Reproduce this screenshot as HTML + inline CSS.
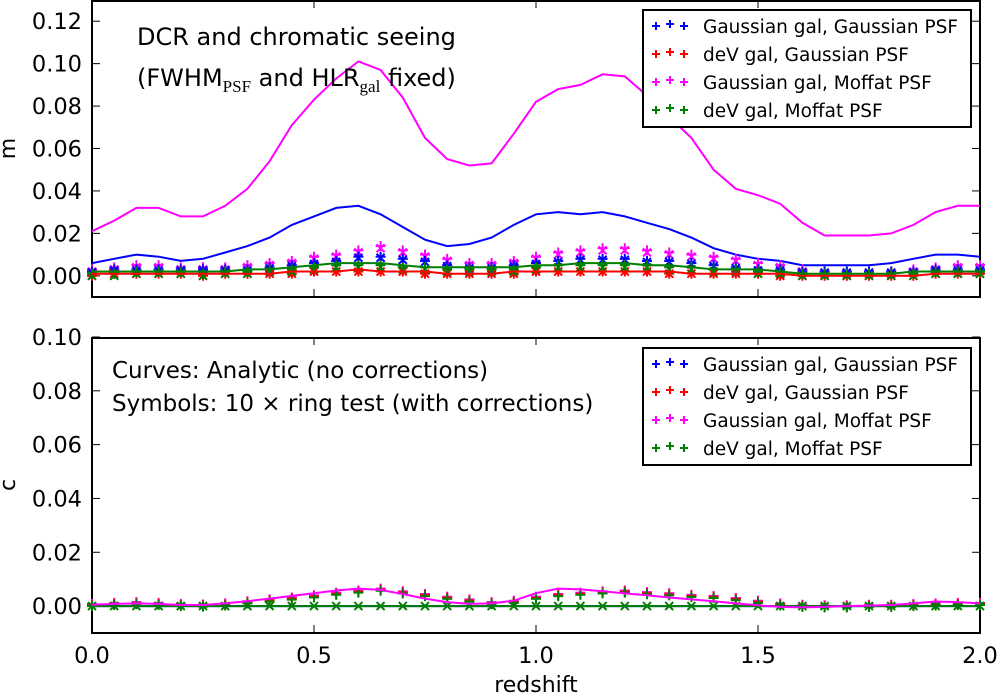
<!DOCTYPE html>
<html><head><meta charset="utf-8"><style>
body{margin:0;background:#fff;}
svg{display:block;font-family:"DejaVu Sans","Liberation Sans",sans-serif;}
</style></head><body>
<svg id="chart" width="1000" height="697" xmlns="http://www.w3.org/2000/svg"></svg>
<script>
const xs = [0,0.05,0.1,0.15,0.2,0.25,0.3,0.35,0.4,0.45,0.5,0.55,0.6,0.65,0.7,0.75,0.8,0.85,0.9,0.95,1.0,1.05,1.1,1.15,1.2,1.25,1.3,1.35,1.4,1.45,1.5,1.55,1.6,1.65,1.7,1.75,1.8,1.85,1.9,1.95,2.0];
const mMagentaCurve = [0.021,0.026,0.032,0.032,0.028,0.028,0.033,0.041,0.054,0.071,0.083,0.093,0.101,0.097,0.084,0.065,0.055,0.052,0.053,0.067,0.082,0.088,0.090,0.095,0.094,0.085,0.075,0.065,0.050,0.041,0.038,0.034,0.025,0.019,0.019,0.019,0.020,0.024,0.030,0.033,0.033];
const mBlueCurve = [0.006,0.008,0.010,0.009,0.007,0.008,0.011,0.014,0.018,0.024,0.028,0.032,0.033,0.029,0.023,0.017,0.014,0.015,0.018,0.024,0.029,0.030,0.029,0.030,0.028,0.025,0.022,0.018,0.013,0.010,0.008,0.007,0.005,0.005,0.005,0.005,0.006,0.008,0.010,0.010,0.009];
const mGreenCurve = [0.002,0.002,0.002,0.002,0.002,0.002,0.002,0.003,0.003,0.004,0.005,0.006,0.006,0.006,0.005,0.004,0.004,0.004,0.004,0.004,0.005,0.005,0.006,0.006,0.006,0.005,0.005,0.004,0.003,0.003,0.003,0.002,0.001,0.001,0.001,0.001,0.001,0.002,0.002,0.002,0.002];
const mRedCurve = [0.001,0.001,0.001,0.001,0.001,0.001,0.001,0.001,0.001,0.002,0.002,0.002,0.003,0.002,0.002,0.002,0.001,0.001,0.001,0.002,0.002,0.002,0.002,0.002,0.002,0.002,0.002,0.001,0.001,0.001,0.001,0.001,0.000,0.000,0.000,0.000,0.000,0.000,0.001,0.001,0.001];
const mMagentaPts = [0.003,0.004,0.005,0.005,0.004,0.004,0.004,0.005,0.006,0.007,0.009,0.010,0.012,0.014,0.012,0.010,0.008,0.006,0.006,0.007,0.009,0.011,0.012,0.013,0.013,0.012,0.011,0.010,0.009,0.008,0.006,0.005,0.003,0.002,0.002,0.002,0.002,0.003,0.004,0.005,0.005];
const mBluePts = [0.002,0.003,0.003,0.003,0.003,0.003,0.003,0.003,0.004,0.005,0.006,0.007,0.009,0.009,0.008,0.007,0.005,0.004,0.004,0.005,0.006,0.007,0.008,0.008,0.008,0.007,0.007,0.006,0.005,0.004,0.003,0.003,0.002,0.002,0.002,0.002,0.002,0.002,0.003,0.003,0.003];
const mGreenPts = [0.001,0.001,0.002,0.002,0.002,0.001,0.002,0.002,0.003,0.003,0.004,0.005,0.005,0.005,0.004,0.004,0.003,0.003,0.003,0.003,0.004,0.005,0.005,0.005,0.005,0.005,0.004,0.004,0.003,0.003,0.002,0.002,0.001,0.001,0.001,0.001,0.001,0.001,0.002,0.002,0.002];
const mRedPts = [0.000,0.001,0.001,0.001,0.001,0.000,0.001,0.001,0.001,0.001,0.002,0.002,0.002,0.002,0.002,0.001,0.001,0.001,0.001,0.001,0.002,0.002,0.002,0.002,0.002,0.002,0.001,0.001,0.001,0.001,0.001,0.000,0.000,0.000,0.000,0.000,0.000,0.000,0.001,0.001,0.001];
const cMagentaCurve = [0.0005,0.0008,0.001,0.0008,0.0004,0.0004,0.001,0.0018,0.0028,0.0038,0.0048,0.0058,0.0065,0.006,0.0045,0.0028,0.0015,0.0008,0.001,0.002,0.0048,0.0065,0.0062,0.0055,0.0047,0.004,0.0032,0.0025,0.0018,0.001,0.0003,-0.0003,-0.0005,-0.0003,0,0.0002,0.0004,0.001,0.0017,0.0015,0.001];
const cPlusPts = [0.0008,0.0012,0.0015,0.0012,0.0008,0.0006,0.001,0.0018,0.0025,0.0032,0.004,0.005,0.0058,0.0065,0.0055,0.0045,0.0035,0.0025,0.0015,0.002,0.0035,0.0045,0.005,0.0055,0.0058,0.0052,0.0048,0.0042,0.0038,0.003,0.002,0.001,0.0005,0.0003,0.0003,0.0005,0.0005,0.0008,0.001,0.0012,0.0012];
const cXPts = [0,0,0,0,0,0,0,0,0,0,0,0,0,0,0,0,0,0,0,0,0,0,0,0,0,0,0,0,0,0,0,0,0,0,0,0,0,0,0,0,0];
const xTicks = [0,0.5,1.0,1.5,2.0];
const xTickLabels = ["0.0","0.5","1.0","1.5","2.0"];
const mTicks = [0,0.02,0.04,0.06,0.08,0.10,0.12];
const mTickLabels = ["0.00","0.02","0.04","0.06","0.08","0.10","0.12"];
const cTicks = [0,0.02,0.04,0.06,0.08,0.10];
const cTickLabels = ["0.00","0.02","0.04","0.06","0.08","0.10"];
const legendLabels = ["Gaussian gal, Gaussian PSF","deV gal, Gaussian PSF","Gaussian gal, Moffat PSF","deV gal, Moffat PSF"];
const legendColors = ["#0000ff","#ff0000","#ff00ff","#008000"];

const svg = document.getElementById('chart');
const NS = 'http://www.w3.org/2000/svg';
function el(tag, attrs, parent){const e=document.createElementNS(NS,tag);for(const k in attrs)e.setAttribute(k,attrs[k]);(parent||svg).appendChild(e);return e;}
const X0=92,X1=980;
const sx = v => X0 + (v-0)/(2-0)*(X1-X0);
const topP = {y0:0, y1:297, lo:-0.01, hi:0.13};
const botP = {y0:337, y1:633, lo:-0.01, hi:0.10};
const syF = p => v => p.y1 - (v-p.lo)/(p.hi-p.lo)*(p.y1-p.y0);
const syT = syF(topP), syB = syF(botP);

function line(arr, sy, color, name){
  const d = arr.map((v,i)=>(i?'L':'M')+sx(xs[i]).toFixed(1)+','+sy(v).toFixed(1)).join('');
  const p = el('path',{d:d,fill:'none',stroke:color,'stroke-width':2});
  
  
}
function markers(arr, sy, color, kind, name){
  const g = el('g',{stroke:color,'stroke-width':2});
  
  
  arr.forEach((v,i)=>{
    const x=sx(xs[i]), y=sy(v), r=5;
    if(kind==='+'){el('line',{x1:x-r,y1:y,x2:x+r,y2:y},g);el('line',{x1:x,y1:y-r,x2:x,y2:y+r},g);}
    else {const q=4;el('line',{x1:x-q,y1:y-q,x2:x+q,y2:y+q},g);el('line',{x1:x-q,y1:y+q,x2:x+q,y2:y-q},g);}
  });
}
function axes(p, sy, ticks, labels, ylabel, name){
  const g = el('g',{});
  
  
  el('rect',{x:X0,y:p.y0+1,width:X1-X0,height:p.y1-p.y0-1,fill:'none',stroke:'#000','stroke-width':2},g);
  ticks.forEach((t,i)=>{
    const y=sy(t);
    el('line',{x1:X0,y1:y,x2:X0+8,y2:y,stroke:'#000','stroke-width':1},g);
    el('line',{x1:X1,y1:y,x2:X1-8,y2:y,stroke:'#000','stroke-width':1},g);
    const tx=el('text',{x:X0-10,y:y+8,'text-anchor':'end','font-size':22.5},g);tx.textContent=labels[i];
    
    
  });
  xTicks.forEach(t=>{
    const x=sx(t);
    el('line',{x1:x,y1:p.y1,x2:x,y2:p.y1-8,stroke:'#000','stroke-width':1},g);
    el('line',{x1:x,y1:p.y0,x2:x,y2:p.y0+8,stroke:'#000','stroke-width':1},g);
  });
  const yl=el('text',{x:0,y:0,'font-size':22,'text-anchor':'middle',transform:`translate(15,${(p.y0+p.y1)/2}) rotate(-90)`},g);
  yl.textContent=ylabel;
  
  
}
function legend(y0, name){
  const g=el('g',{});
  
  
  el('rect',{x:643,y:y0,width:328,height:117,fill:'#fff',stroke:'#000','stroke-width':2},g);
  legendLabels.forEach((lab,i)=>{
    const y=y0+16+i*28;
    const e=el('g',{},g);
    
    
    [656,670,684].forEach((x,j)=>{const yy=y+(j===1?-2:0);el('line',{x1:x-4,y1:yy,x2:x+4,y2:yy,stroke:legendColors[i],'stroke-width':2},e);el('line',{x1:x,y1:yy-4,x2:x,y2:yy+4,stroke:legendColors[i],'stroke-width':2},e);});
    const t=el('text',{x:703,y:y+7,'font-size':18.5},e);t.textContent=lab;
  });
}

// Top panel
axes(topP, syT, mTicks, mTickLabels, 'm', 'top-axes');
line(mMagentaCurve, syT, '#ff00ff','m-magenta-curve');
line(mBlueCurve, syT, '#0000ff','m-blue-curve');
markers(mMagentaPts, syT, '#ff00ff','+','m-magenta-plus');
markers(mMagentaPts.map(v=>v-0.001), syT, '#ff00ff','x','m-magenta-x');
markers(mBluePts, syT, '#0000ff','+','m-blue-plus');
markers(mBluePts.map(v=>v-0.0005), syT, '#0000ff','x','m-blue-x');
markers(mRedPts, syT, '#ff0000','+','m-red-plus');
markers(mRedPts, syT, '#ff0000','x','m-red-x');
markers(mGreenPts, syT, '#008000','+','m-green-plus');
markers(mGreenPts.map(v=>v-0.001), syT, '#008000','x','m-green-x');
line(mRedCurve, syT, '#ff0000','m-red-curve');
line(mGreenCurve, syT, '#008000','m-green-curve');
const t1=el('text',{x:137,y:45,'font-size':24});t1.textContent='DCR and chromatic seeing';
 
const t2=el('text',{x:137,y:86,'font-size':24});
t2.innerHTML='(FWHM<tspan font-family="Liberation Serif, serif" font-size="17" dy="6">PSF</tspan><tspan dy="-6"> and HLR</tspan><tspan font-family="Liberation Serif, serif" font-size="17" dy="6">gal</tspan><tspan dy="-6"> fixed)</tspan>';
 
legend(10,'top-legend');

// Bottom panel
axes(botP, syB, cTicks, cTickLabels, 'c', 'bottom-axes');
markers(cPlusPts, syB, '#ff00ff','+','c-magenta-plus');
markers(cPlusPts.map(v=>v-0.0004), syB, '#ff0000','+','c-red-plus');
markers(cPlusPts.map(v=>v-0.0008), syB, '#008000','+','c-green-plus');
markers(cXPts, syB, '#008000','x','c-green-x');
line(cXPts, syB, '#0000ff','c-blue-curve');
line(cXPts, syB, '#008000','c-green-curve');
line(cMagentaCurve, syB, '#ff00ff','c-magenta-curve');
const t3=el('text',{x:112,y:378,'font-size':23});t3.textContent='Curves: Analytic (no corrections)';
 
const t4=el('text',{x:112,y:411,'font-size':23});t4.textContent='Symbols: 10 \u00d7 ring test (with corrections)';
 
legend(348,'bottom-legend');

xTicks.forEach((t,i)=>{
  const tx=el('text',{x:sx(t),y:663,'text-anchor':'middle','font-size':22.5});tx.textContent=xTickLabels[i];
  
  
});
const xl=el('text',{x:536,y:692,'text-anchor':'middle','font-size':22});xl.textContent='redshift';


</script>
</body></html>
